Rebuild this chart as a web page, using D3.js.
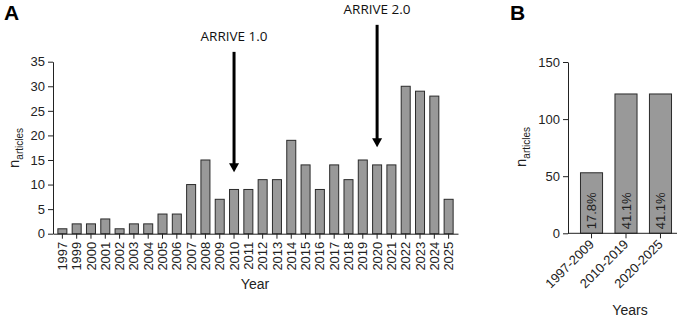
<!DOCTYPE html>
<html>
<head>
<meta charset="utf-8">
<script src="https://cdn.jsdelivr.net/npm/d3@7"></script>
<style>
  body { margin: 0; background: #fff; }
  svg { display: block; font-family: "Liberation Sans", Arial, sans-serif; }
</style>
</head>
<body>
<svg id="chart" width="685" height="318"></svg>
<script>
// panel A data
const years = ["1997","1999","2000","2001","2002","2003","2004","2005","2006","2007","2008","2009",
  "2010","2011","2012","2013","2014","2015","2016","2017","2018","2019","2020","2021","2022","2023","2024","2025"];
const counts = [1,2,2,3,1,2,2,4,4,10,15,7,9,9,11,11,19,14,9,14,11,15,14,14,30,29,28,7];
const yTicksA = [0,5,10,15,20,25,30,35];

// arrows: year, label, line top and tip (in n units)
const arrowYears = ["2010","2020"];
const arrowLabels = ["ARRIVE 1.0","ARRIVE 2.0"];
const arrowTop = [37, 42.5];
const arrowTip = [12.5, 17.6];

// panel B data
const periods = ["1997-2009","2010-2019","2020-2025"];
const periodCounts = [53,122,122];
const periodPct = ["17.8%","41.1%","41.1%"];
const yTicksB = [0,50,100,150];

const svg = d3.select("#chart");
const barFill = "#999999", barStroke = "#2b2b2b";

// ---------- panel A ----------
const xA = d3.scaleBand().domain(years).range([53, 458]).paddingInner(0.37).paddingOuter(0.34);
const yA = d3.scaleLinear().domain([0, 35]).range([233.7, 61.7]);

const gA = svg.append("g");

gA.selectAll("rect.bar")
  .data(years)
  .enter().append("rect")
  .attr("class", "bar")
  .attr("x", d => xA(d))
  .attr("width", xA.bandwidth())
  .attr("y", (d, i) => yA(counts[i]))
  .attr("height", (d, i) => yA(0) - yA(counts[i]))
  .attr("fill", barFill)
  .attr("stroke", barStroke)
  .attr("stroke-width", 1);

const axYA = gA.append("g")
  .attr("transform", "translate(53,0)")
  .call(d3.axisLeft(yA).tickValues(yTicksA).tickSize(5).tickSizeOuter(0));
axYA.selectAll("text").attr("font-size", 13).attr("fill", "#222").attr("font-family", "Liberation Sans");

const axXA = gA.append("g")
  .attr("transform", "translate(0,233.7)")
  .call(d3.axisBottom(xA).tickSize(5).tickSizeOuter(0));
axXA.selectAll("text")
  .attr("font-size", 13).attr("fill", "#222").attr("font-family", "Liberation Sans")
  .attr("transform", "rotate(-90)")
  .attr("text-anchor", "end")
  .attr("x", -8).attr("y", 0).attr("dy", "0.35em");
gA.selectAll(".domain, .tick line").attr("stroke", "#222");

gA.append("text").attr("x", 255).attr("y", 289)
  .attr("text-anchor", "middle").attr("font-size", 14).attr("fill", "#222").text("Year");

const ylabA = gA.append("text")
  .attr("transform", "translate(19,148) rotate(-90)")
  .attr("text-anchor", "middle").attr("font-size", 15).attr("fill", "#222");
ylabA.append("tspan").text("n");
ylabA.append("tspan").attr("font-size", 10).attr("dy", 4).text("articles");

// arrows
arrowYears.forEach((yr, i) => {
  const cx = xA(yr) + xA.bandwidth() / 2;
  const top = yA(arrowTop[i]), tip = yA(arrowTip[i]);
  gA.append("line").attr("x1", cx).attr("x2", cx).attr("y1", top).attr("y2", tip - 7)
    .attr("stroke", "#000").attr("stroke-width", 3);
  gA.append("path")
    .attr("d", `M${cx - 5},${tip - 9} L${cx + 5},${tip - 9} L${cx},${tip} Z`)
    .attr("fill", "#000");
  gA.append("text").attr("x", cx).attr("y", top - 11)
    .attr("text-anchor", "middle").attr("font-family", "Open Sans").attr("font-size", 13.5)
    .attr("fill", "#111").text(arrowLabels[i]);
});

// ---------- panel B ----------
const xB = d3.scaleBand().domain(periods).range([568, 684]).paddingInner(0.36).paddingOuter(0.362);
const yB = d3.scaleLinear().domain([0, 150]).range([233.3, 62]);
const gB = svg.append("g");

gB.selectAll("rect.bar")
  .data(periods)
  .enter().append("rect")
  .attr("class", "bar")
  .attr("x", d => xB(d))
  .attr("width", xB.bandwidth())
  .attr("y", (d, i) => yB(periodCounts[i]))
  .attr("height", (d, i) => yB(0) - yB(periodCounts[i]))
  .attr("fill", barFill)
  .attr("stroke", barStroke)
  .attr("stroke-width", 1);

gB.selectAll("text.pct")
  .data(periods)
  .enter().append("text")
  .attr("class", "pct")
  .attr("transform", d => `translate(${xB(d) + xB.bandwidth() / 2},${yB(0) - 4}) rotate(-90)`)
  .attr("dy", "0.35em")
  .attr("font-size", 13).attr("fill", "#222")
  .text((d, i) => periodPct[i]);

const axYB = gB.append("g")
  .attr("transform", "translate(568,0)")
  .call(d3.axisLeft(yB).tickValues(yTicksB).tickSize(5).tickSizeOuter(0));
axYB.selectAll("text").attr("font-size", 13).attr("fill", "#222").attr("font-family", "Liberation Sans");

const axXB = gB.append("g")
  .attr("transform", "translate(0,233.3)")
  .call(d3.axisBottom(xB).tickSize(5).tickSizeOuter(0));
axXB.select(".domain").remove();
axXB.append("line").attr("x1", 568).attr("x2", 677).attr("stroke", "#222");
axXB.selectAll("text")
  .attr("font-size", 13).attr("fill", "#222").attr("font-family", "Liberation Sans")
  .attr("text-anchor", "end")
  .attr("transform", "rotate(-45)")
  .attr("x", -6).attr("y", 6).attr("dy", "0.35em");
gB.selectAll(".domain, .tick line").attr("stroke", "#222");

gB.append("text").attr("x", 630).attr("y", 315)
  .attr("text-anchor", "middle").attr("font-size", 14).attr("fill", "#222").text("Years");

const ylabB = gB.append("text")
  .attr("transform", "translate(526,147) rotate(-90)")
  .attr("text-anchor", "middle").attr("font-size", 15).attr("fill", "#222");
ylabB.append("tspan").text("n");
ylabB.append("tspan").attr("font-size", 10).attr("dy", 4).text("articles");

// panel letters
svg.append("text").attr("x", 4).attr("y", 20).attr("font-size", 21).attr("font-weight", "bold")
  .attr("font-family", "Liberation Sans").text("A");
svg.append("text").attr("x", 510).attr("y", 20).attr("font-size", 21).attr("font-weight", "bold")
  .attr("font-family", "Liberation Sans").text("B");
</script>
</body>
</html>
